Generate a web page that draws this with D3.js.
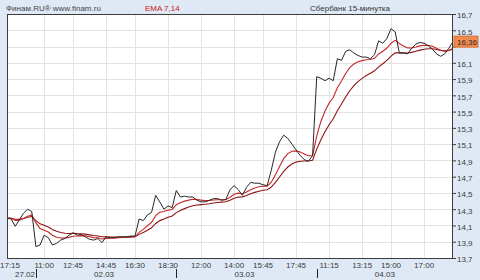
<!DOCTYPE html>
<html>
<head>
<meta charset="utf-8">
<script src="https://cdn.jsdelivr.net/npm/d3@7"></script>
<style>
  body { margin: 0; background: #dfe9f6; }
  svg { display: block; font-family: Arial, "Liberation Sans", sans-serif; }
</style>
</head>
<body>
<div id="chart"></div>
<script>
// 15-min closes, 27.02 17:15 ... 04.03 18:45
const closes = [
  14.19, 14.18, 14.09, 14.17, 14.25, 14.30, 14.27,
  13.84, 13.86, 13.98, 13.95, 13.86, 13.88, 13.92, 13.94, 13.98, 14.01,
  13.98, 13.99, 13.96, 13.93, 13.92, 13.94, 13.89, 13.96, 13.95, 13.95,
  13.96, 13.96, 13.96, 13.97, 13.97, 14.18, 14.16, 14.23, 14.26, 14.47,
  14.39, 14.30, 14.34, 14.32,
  14.53, 14.45, 14.46, 14.45, 14.45, 14.41, 14.39, 14.39, 14.41, 14.43,
  14.43, 14.41, 14.42, 14.54, 14.59, 14.54, 14.47, 14.57, 14.63, 14.62,
  14.62, 14.60, 14.59, 14.78, 15.00, 15.13, 15.21, 15.17, 15.10, 15.03,
  14.96, 14.91, 14.89, 14.96,
  15.93, 15.91, 15.88, 15.91, 15.88, 16.15, 16.13, 16.24, 16.26, 16.22,
  16.19, 16.17, 16.17, 16.15, 16.20, 16.37, 16.34, 16.40, 16.52, 16.48,
  16.22, 16.22, 16.21, 16.28, 16.33, 16.35, 16.34, 16.31, 16.27, 16.21,
  16.18, 16.21, 16.28, 16.36
];

// x labels (bar index -> time)
const timeLabels = ["17:15", "11:00", "12:45", "14:45", "16:30", "18:30", "12:00",
                    "14:00", "15:45", "17:45", "11:15", "13:15", "15:00", "17:00"];
const timeIdx    = [0, 9, 16, 24, 31, 39, 47, 55, 62, 70, 78, 86, 93, 101];

// trading days and first bar of each
const days     = ["27.02", "02.03", "03.03", "04.03"];
const dayStart = [0, 7, 41, 75];

const yTicks = [13.7, 13.9, 14.1, 14.3, 14.5, 14.7, 14.9, 15.1, 15.3, 15.5, 15.7, 15.9, 16.1, 16.3, 16.5, 16.7];

const emaPeriods = [7, 14];
const emaColors = ["#c82828", "#8e1414"];
const priceColor = "#262626";
const gridColor = "#e3e3e3";
const frameColor = "#3c3c3c";
const textColor = "#3a3a3a";
const fontSize = 8;

const W = 480, H = 280;
const box = { left: 7, right: 453, top: 14, bottom: 258 };

function ema(values, n) {
  const k = 2 / (n + 1);
  let prev = values[0];
  return values.map(function (v, i) {
    prev = i === 0 ? v : v * k + prev * (1 - k);
    return prev;
  });
}

const fmt = function (v) { return d3.format(".1f")(v).replace(".", ","); };
const fmt2 = function (v) { return d3.format(".2f")(v).replace(".", ","); };

const svg = d3.select("#chart").append("svg")
  .attr("width", W).attr("height", H);

svg.append("rect").attr("width", W).attr("height", H).attr("fill", "#dfe9f6");

const x = d3.scaleLinear().domain([0, closes.length - 1]).range([box.left, box.right]);
const y = d3.scaleLinear().domain([13.7, 16.7]).range([box.bottom, box.top]);

// plot background
svg.append("rect")
  .attr("x", box.left).attr("y", box.top)
  .attr("width", box.right - box.left).attr("height", box.bottom - box.top)
  .attr("fill", "white");

// grid
svg.append("g").selectAll("line").data(yTicks).join("line")
  .attr("x1", box.left).attr("x2", box.right)
  .attr("y1", d => Math.round(y(d)) + 0.5).attr("y2", d => Math.round(y(d)) + 0.5)
  .attr("stroke", gridColor);

svg.append("g").selectAll("line").data(timeIdx).join("line")
  .attr("x1", d => Math.round(x(d)) + 0.5).attr("x2", d => Math.round(x(d)) + 0.5)
  .attr("y1", box.top).attr("y2", box.bottom)
  .attr("stroke", gridColor);

// clip for lines
svg.append("clipPath").attr("id", "plotclip")
  .append("rect").attr("x", box.left).attr("y", box.top)
  .attr("width", box.right - box.left).attr("height", box.bottom - box.top);

const plot = svg.append("g").attr("clip-path", "url(#plotclip)");

const line = d3.line().x((d, i) => x(i)).y(d => y(d));

// EMA 14 first, then EMA 7, then price on top
[1, 0].forEach(function (j) {
  plot.append("path")
    .datum(ema(closes, emaPeriods[j]))
    .attr("fill", "none")
    .attr("stroke", emaColors[j])
    .attr("stroke-width", 1.1)
    .attr("d", line);
});

plot.append("path")
  .datum(closes)
  .attr("fill", "none")
  .attr("stroke", priceColor)
  .attr("stroke-width", 1)
  .attr("d", line);

// frame
svg.append("rect")
  .attr("x", box.left + 0.5).attr("y", box.top + 0.5)
  .attr("width", box.right - box.left - 1).attr("height", box.bottom - box.top)
  .attr("fill", "none")
  .attr("stroke", frameColor);

// right axis (the label under the last-price box is hidden)
const last = closes[closes.length - 1];
const yAxis = svg.append("g")
  .attr("transform", `translate(${box.right},0)`)
  .call(d3.axisRight(y).tickValues(yTicks).tickSize(3).tickPadding(1).tickFormat(fmt));
yAxis.select(".domain").remove();
yAxis.selectAll("line").attr("stroke", frameColor);
yAxis.selectAll("text")
  .attr("dy", "0.85em")
  .attr("y", -3)
  .style("font-size", fontSize + "px")
  .style("font-family", "Arial, 'Liberation Sans', sans-serif")
  .attr("fill", textColor)
  .style("display", d => Math.abs(y(d) - y(last)) < 9 ? "none" : null);

// last price marker
svg.append("rect")
  .attr("x", box.right + 1).attr("y", y(last) - 5.5)
  .attr("width", 24).attr("height", 11)
  .attr("fill", "#f28a4d")
  .attr("stroke", "#d56f33");
svg.append("text")
  .attr("x", box.right + 4).attr("y", y(last) + 3)
  .attr("font-size", fontSize).attr("fill", "#2a2a2a")
  .text(fmt2(last));

// time labels
svg.append("g").selectAll("text").data(timeIdx).join("text")
  .attr("x", d => Math.max(x(d), 10)).attr("y", 268)
  .attr("text-anchor", "middle")
  .attr("font-size", fontSize).attr("fill", textColor)
  .text((d, i) => timeLabels[i]);

// day separators
svg.append("g").selectAll("line").data(dayStart.slice(1)).join("line")
  .attr("x1", d => Math.round(x(d)) + 0.5).attr("x2", d => Math.round(x(d)) + 0.5)
  .attr("y1", 269).attr("y2", 278)
  .attr("stroke", "#222");

// day labels
svg.append("g").selectAll("text").data(days).join("text")
  .attr("x", function (d, i) {
    const a = dayStart[i];
    const b = i < days.length - 1 ? dayStart[i + 1] - 1 : closes.length - 1;
    return Math.max(x((a + b) / 2), x(0) + 18);
  })
  .attr("y", 277)
  .attr("text-anchor", "middle")
  .attr("font-size", fontSize).attr("fill", textColor)
  .text(d => d);

// header
svg.append("text")
  .attr("x", 6).attr("y", 11)
  .attr("font-size", fontSize).attr("fill", "#444")
  .text("Финам.RU®  www.finam.ru");

svg.append("text")
  .attr("x", 145).attr("y", 11)
  .attr("font-size", fontSize).attr("fill", "#d01010")
  .text("EMA 7,14");

svg.append("text")
  .attr("x", 350).attr("y", 11)
  .attr("text-anchor", "middle")
  .attr("font-size", fontSize).attr("fill", "#333")
  .text("Сбербанк 15-минутка");
</script>
</body>
</html>
